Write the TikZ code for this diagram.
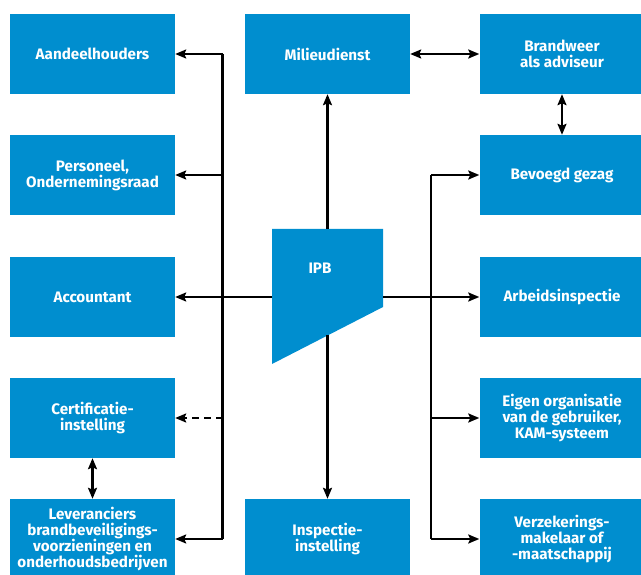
\documentclass[tikz,border=0pt]{standalone}
\usepackage{fontspec}
\setmainfont{Fira Sans}
\usetikzlibrary{arrows.meta}
\definecolor{boxblue}{RGB}{0,142,207}
\tikzset{
  box/.style={fill=boxblue, text=white, minimum width=165pt, minimum height=80pt,
    inner sep=0pt, align=center, font=\fontsize{15.2}{16}\selectfont\bfseries},
  conn/.style={line width=2.2pt, draw=black},
  arr/.style={conn, -{Stealth[length=11pt,width=9pt,inset=2pt]}},
  darr/.style={conn, {Stealth[length=11pt,width=9pt,inset=2pt]}-{Stealth[length=11pt,width=9pt,inset=2pt]}},
}
\begin{document}
\begin{tikzpicture}[x=1pt,y=-1pt]
\useasboundingbox (0,0) rectangle (641,575);
\clip (0,0) rectangle (641,575);
% left column
\node[box] (aand) at (92.5,54) {Aandeelhouders};
\node[box] (pers) at (92.5,175) {Personeel,\\Ondernemingsraad};
\node[box] (acc) at (92.5,297) {Accountant};
\node[box] (cert) at (92.5,418) {Certificatie-\\instelling};
\node[box] (lev) at (92.5,539) {Leveranciers\\brandbeveiligings-\\voorzieningen en\\onderhoudsbedrijven};
% middle column
\node[box] (mil) at (327.5,54) {Milieudienst};
\node[box] (insp) at (327.5,539) {Inspectie-\\instelling};
% right column
\node[box] (brand) at (562,54) {Brandweer\\als adviseur};
\node[box] (bev) at (562,175) {Bevoegd gezag};
\node[box] (arb) at (562,297) {Arbeidsinspectie};
\node[box] (eigen) at (562,418) {Eigen organisatie\\van de gebruiker,\\KAM-systeem};
\node[box] (verz) at (562,539) {Verzekerings-\\makelaar of\\-maatschappij};
% IPB shape
\fill[boxblue] (272,229) -- (383,229) -- (383,307) -- (272,364) -- cycle;
\node[font=\fontsize{15.2}{16}\selectfont\bfseries, text=white] (ipb) at (320,268) {IPB};
\coordinate (ipbL) at (272,297);
\coordinate (ipbR) at (383,297);
\coordinate (ipbT) at (327.5,229);
\coordinate (ipbB) at (327.5,335);
% buses
\coordinate (lbusT) at (222.5,54);
\coordinate (lbusB) at (222.5,539);
\coordinate (rbusT) at (431,175);
\coordinate (rbusB) at (431,539);
\draw[conn] (lbusT) -- (lbusB);
\draw[conn] (rbusT) -- (rbusB);
% left arrows
\draw[arr] (lbusT) -- (aand.east);
\draw[arr] (lbusT |- pers.east) -- (pers.east);
\draw[arr] (ipbL) -- (acc.east);
\draw[arr, dash pattern=on 7pt off 5pt] (lbusT |- cert.east) -- (cert.east);
\draw[arr] (lbusB) -- (lev.east);
% right arrows
\draw[arr] (rbusT) -- (bev.west);
\draw[arr] (ipbR) -- (arb.west);
\draw[arr] (rbusT |- eigen.west) -- (eigen.west);
\draw[arr] (rbusB) -- (verz.west);
% middle
\draw[arr] (ipbT) -- (mil.south);
\draw[arr] (ipbB) -- (insp.north);
% double arrows
\draw[darr] (mil.east) -- (brand.west);
\draw[darr] (brand.south) -- (bev.north);
\draw[darr] (cert.south) -- (lev.north);
\end{tikzpicture}
\end{document}
